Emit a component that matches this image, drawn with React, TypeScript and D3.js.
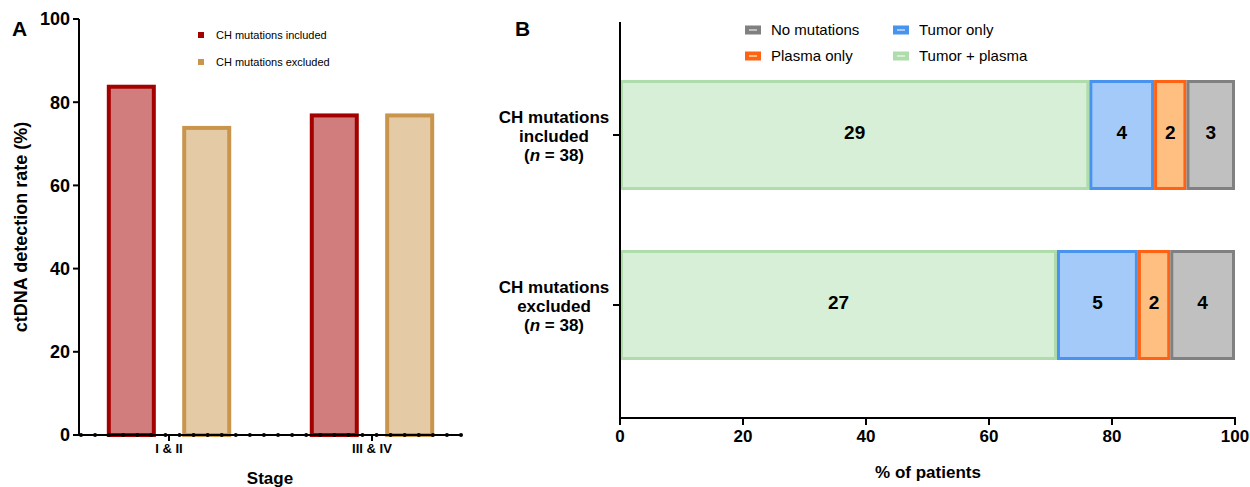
import React from "react";
import { scaleBand, scaleLinear, range } from "d3";

// Panel A data
const stages = ["I & II", "III & IV"];
const seriesA = ["CH mutations included", "CH mutations excluded"];
const ratesIncluded = [84.2, 77.3];
const ratesExcluded = [74.3, 77.3];
const yTicksA = [0, 20, 40, 60, 80, 100];

// Panel B data
const groupsB = ["included", "excluded"];
const groupLabels = [
  ["CH mutations", "included"],
  ["CH mutations", "excluded"],
];
const segments = ["Tumor + plasma", "Tumor only", "Plasma only", "No mutations"];
const countsIncluded = [29, 4, 2, 3];
const countsExcluded = [27, 5, 2, 4];
const xTicksB = [0, 20, 40, 60, 80, 100];
const totalN = 38;

const colA = {
  "CH mutations included": { stroke: "#a30000", fill: "#d27d7d" },
  "CH mutations excluded": { stroke: "#c9954d", fill: "#e4cba6" },
};
const colB = {
  "Tumor + plasma": { stroke: "#afdcab", fill: "#d7eed7" },
  "Tumor only": { stroke: "#4793ee", fill: "#a4cafa" },
  "Plasma only": { stroke: "#ff6212", fill: "#ffbf80" },
  "No mutations": { stroke: "#808080", fill: "#c0c0c0" },
};

const FONT = "'Liberation Sans', Arial, sans-serif";

function PanelA() {
  const y = scaleLinear().domain([0, 100]).range([435, 19]);
  const x = scaleBand().domain(stages).range([79, 462]).paddingInner(0.387).paddingOuter(0.137);
  const xs = scaleBand().domain(seriesA).range([0, x.bandwidth()]).paddingInner(0.35);
  const dots = scaleLinear().domain([0, 27]).range([81, 461]);
  const sw = 4;
  const vals = { "CH mutations included": ratesIncluded, "CH mutations excluded": ratesExcluded };

  return (
    <g>
      <text x={12} y={36} fontFamily={FONT} fontWeight="bold" fontSize={21}>A</text>
      {/* bars */}
      {stages.map((s, i) =>
        seriesA.map((k) => {
          const v = vals[k][i];
          const x0 = (x(s) as number) + (xs(k) as number);
          return (
            <rect
              key={s + k}
              x={x0 + sw / 2}
              y={y(v) + sw / 2}
              width={xs.bandwidth() - sw}
              height={y(0) - y(v) - sw / 2}
              fill={colA[k].fill}
              stroke={colA[k].stroke}
              strokeWidth={sw}
            />
          );
        })
      )}
      {/* y axis */}
      <line x1={79} x2={79} y1={y(100)} y2={y(0)} stroke="#000" strokeWidth={2} />
      {yTicksA.map((t) => (
        <g key={t}>
          <line x1={73} x2={79} y1={y(t)} y2={y(t)} stroke="#000" strokeWidth={2} />
          <text x={70} y={y(t)} dy="0.35em" textAnchor="end" fontFamily={FONT} fontWeight="bold" fontSize={18}>
            {t}
          </text>
        </g>
      ))}
      <text
        transform={`translate(27,${y(50)}) rotate(-90)`}
        textAnchor="middle"
        fontFamily={FONT}
        fontWeight="bold"
        fontSize={18}
      >
        ctDNA detection rate (%)
      </text>
      {/* x axis */}
      <line x1={79} x2={462} y1={y(0)} y2={y(0)} stroke="#000" strokeWidth={2} />
      {range(28).map((d) => (
        <circle key={d} cx={dots(d)} cy={y(0)} r={2} fill="#000" />
      ))}
      {stages.map((s) => {
        const cx = (x(s) as number) + x.bandwidth() / 2;
        return (
          <g key={s}>
            <line x1={cx} x2={cx} y1={y(0)} y2={y(0) + 6} stroke="#000" strokeWidth={2} />
            <text x={cx} y={453} textAnchor="middle" fontFamily={FONT} fontWeight="bold" fontSize={13}>
              {s}
            </text>
          </g>
        );
      })}
      <text x={270} y={484} textAnchor="middle" fontFamily={FONT} fontWeight="bold" fontSize={17}>
        Stage
      </text>
      {/* legend */}
      {seriesA.map((k, i) => (
        <g key={k} transform={`translate(198,${35 + i * 27})`}>
          <rect x={0} y={-3} width={6} height={6} fill={colA[k].stroke} />
          <text x={18} y={0} dy="0.35em" fontFamily={FONT} fontSize={11}>
            {k}
          </text>
        </g>
      ))}
    </g>
  );
}

function PanelB() {
  const x = scaleLinear().domain([0, 100]).range([620, 1235]);
  const y = scaleBand().domain(groupsB).range([50, 390]).paddingInner(0.353).paddingOuter(0.1765);
  const counts = { included: countsIncluded, excluded: countsExcluded };
  const sw = 3;
  const legend = [
    { k: "No mutations", lx: 745, ly: 30 },
    { k: "Tumor only", lx: 893, ly: 30 },
    { k: "Plasma only", lx: 745, ly: 56 },
    { k: "Tumor + plasma", lx: 893, ly: 56 },
  ];

  return (
    <g>
      <text x={515} y={36} fontFamily={FONT} fontWeight="bold" fontSize={21}>B</text>
      {groupsB.map((g, gi) => {
        let cum = 0;
        const y0 = y(g) as number;
        const cy = y0 + y.bandwidth() / 2;
        return (
          <g key={g}>
            {segments.map((s, si) => {
              const c = counts[g][si];
              const p0 = (cum / totalN) * 100;
              cum += c;
              const p1 = (cum / totalN) * 100;
              return (
                <g key={s}>
                  <rect
                    x={x(p0) + sw / 2}
                    y={y0 + sw / 2}
                    width={x(p1) - x(p0) - sw}
                    height={y.bandwidth() - sw}
                    fill={colB[s].fill}
                    stroke={colB[s].stroke}
                    strokeWidth={sw}
                  />
                  <text
                    x={(x(p0) + x(p1)) / 2}
                    y={cy - 3}
                    dy="0.35em"
                    textAnchor="middle"
                    fontFamily={FONT}
                    fontWeight="bold"
                    fontSize={19}
                  >
                    {c}
                  </text>
                </g>
              );
            })}
            <line x1={613} x2={620} y1={cy} y2={cy} stroke="#000" strokeWidth={2} />
            <text textAnchor="middle" fontFamily={FONT} fontWeight="bold" fontSize={17}>
              <tspan x={554} y={cy - 12}>{groupLabels[gi][0]}</tspan>
              <tspan x={554} y={cy + 7}>{groupLabels[gi][1]}</tspan>
              <tspan x={554} y={cy + 26}>
                (<tspan fontStyle="italic">n</tspan> = {totalN})
              </tspan>
            </text>
          </g>
        );
      })}
      {/* axes */}
      <line x1={620} x2={620} y1={22} y2={419} stroke="#000" strokeWidth={2} />
      <line x1={619} x2={1236} y1={418} y2={418} stroke="#000" strokeWidth={2} />
      {xTicksB.map((t) => (
        <g key={t}>
          <line x1={x(t)} x2={x(t)} y1={418} y2={425} stroke="#000" strokeWidth={2} />
          <text x={x(t)} y={442} textAnchor="middle" fontFamily={FONT} fontWeight="bold" fontSize={17}>
            {t}
          </text>
        </g>
      ))}
      <text x={928} y={478} textAnchor="middle" fontFamily={FONT} fontWeight="bold" fontSize={17}>
        % of patients
      </text>
      {/* legend */}
      {legend.map(({ k, lx, ly }) => (
        <g key={k} transform={`translate(${lx},${ly})`}>
          <rect x={0} y={-4.5} width={16} height={9} fill={colB[k].stroke} />
          <rect x={4} y={-1} width={8} height={2} fill={colB[k].fill} />
          <text x={26} y={0} dy="0.35em" fontFamily={FONT} fontSize={15}>
            {k}
          </text>
        </g>
      ))}
    </g>
  );
}

export default function App() {
  return (
    <svg
      width={1250}
      height={487}
      style={{ position: "absolute", left: 0, top: 0, background: "#fff" }}
    >
      <PanelA />
      <PanelB />
    </svg>
  );
}
